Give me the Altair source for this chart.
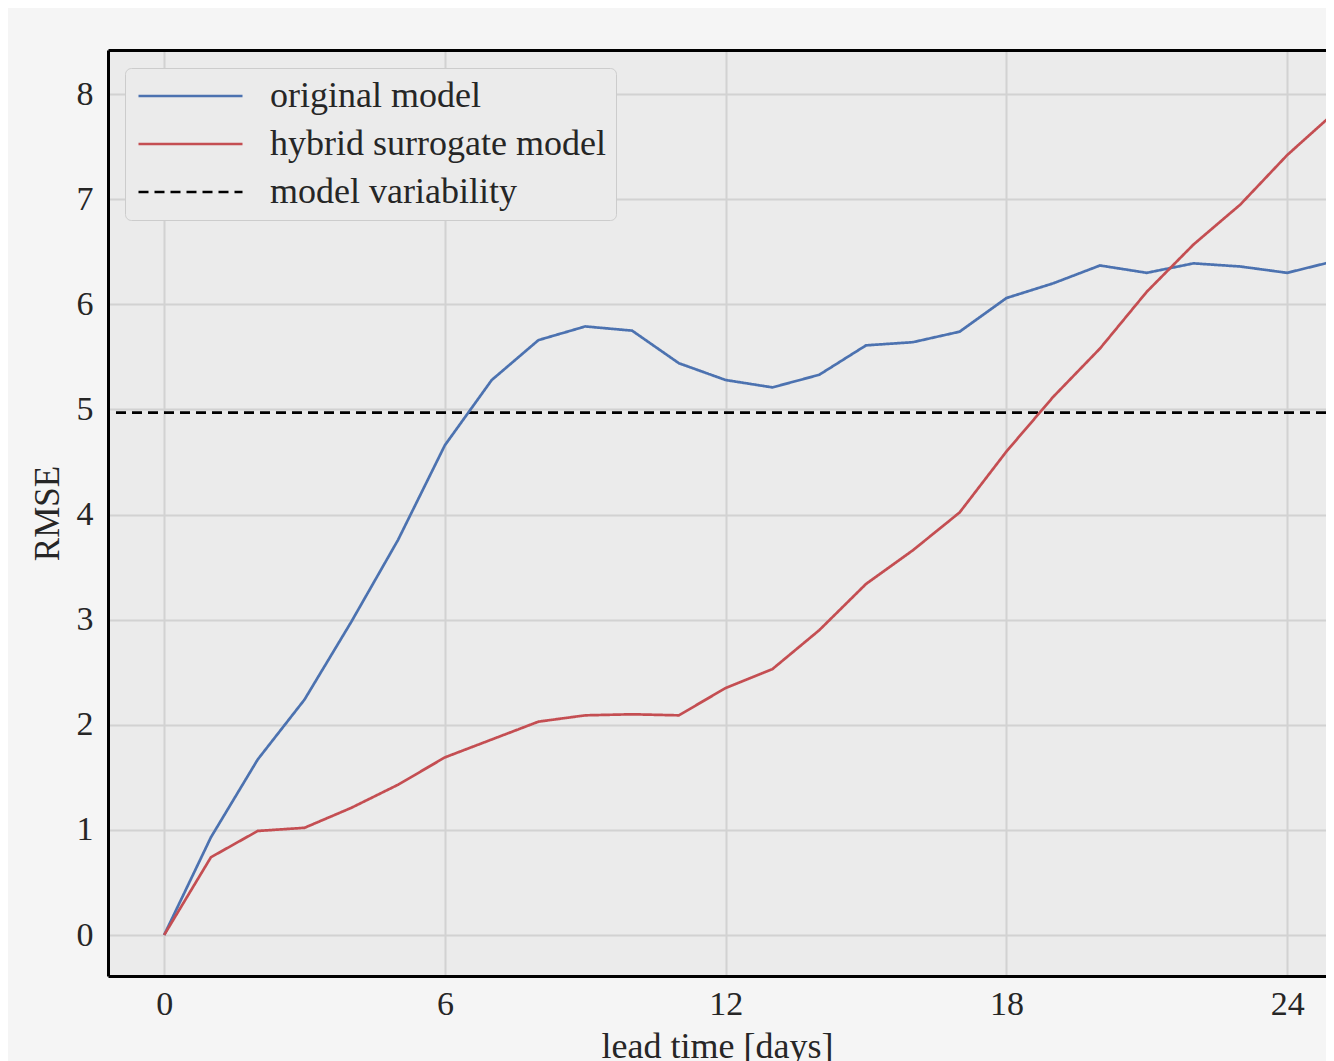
import altair as alt
import pandas as pd

days = list(range(26))
original = [0, 0.93, 1.67, 2.24, 2.98, 3.76, 4.66, 5.28, 5.66, 5.79, 5.75, 5.44, 5.28,
            5.21, 5.33, 5.61, 5.64, 5.74, 6.06, 6.20, 6.37, 6.30, 6.39, 6.36, 6.30, 6.41]
hybrid = [0, 0.74, 0.99, 1.02, 1.21, 1.43, 1.69, 1.86, 2.03, 2.09, 2.10, 2.09, 2.35,
          2.53, 2.90, 3.34, 3.66, 4.02, 4.60, 5.12, 5.58, 6.12, 6.57, 6.95, 7.42, 7.82]
variability = 4.97

series_names = ["original model", "hybrid surrogate model", "model variability"]
colors = ["#4c72b0", "#c44e52", "#000000"]
dashes = [[1, 0], [1, 0], [10, 6]]
x_ticks = [0, 6, 12, 18, 24]
y_ticks = [0, 1, 2, 3, 4, 5, 6, 7, 8]

lines_df = pd.concat([
    pd.DataFrame({"day": days, "rmse": original, "series": series_names[0]}),
    pd.DataFrame({"day": days, "rmse": hybrid, "series": series_names[1]}),
])
rule_df = pd.DataFrame({"rmse": [variability], "series": [series_names[2]]})

FONT = "Liberation Serif"
TXT = "#262626"

color = alt.Color(
    "series:N",
    scale=alt.Scale(domain=series_names, range=colors),
    legend=alt.Legend(
        title=None,
        orient="none",
        legendX=17,
        legendY=18,
        fillColor="#ebebeb",
        strokeColor="#cccccc",
        cornerRadius=6,
        padding=10,
        symbolType="M-2.9,0H17.9",
        symbolSize=100,
        symbolStrokeWidth=2.6,
        labelFont=FONT,
        labelFontSize=36,
        labelColor=TXT,
        labelOffset=99,
        labelLimit=0,
        rowPadding=12,
    ),
)
dash = alt.StrokeDash(
    "series:N",
    scale=alt.Scale(domain=series_names, range=dashes),
    legend=alt.Legend(title=None, orient="none", legendX=17, legendY=18),
)

# plot spans 108..1326 px; 46.79 px per day with day 0 at x=164
xscale = alt.Scale(domain=[-1.2, 24.83], nice=False, zero=False)
yscale = alt.Scale(domain=[-0.39, 8.42], nice=False, zero=False)

BORDER = dict(domain=True, domainColor="#000000", domainWidth=3)

lines = alt.Chart(lines_df).mark_line(strokeWidth=2.7, clip=True).encode(
    x=alt.X("day:Q", scale=xscale,
            axis=alt.Axis(title="lead time [days]", values=x_ticks, labelPadding=11,
                          titlePadding=8, titleFontSize=36, **BORDER)),
    y=alt.Y("rmse:Q", scale=yscale,
            axis=alt.Axis(title="RMSE", values=y_ticks, format="d", labelPadding=15,
                          titleX=-61, titleBaseline="middle", titleFontSize=35,
                          **BORDER)),
    color=color,
    strokeDash=dash,
)

top_border = alt.Chart(lines_df).mark_line(opacity=0, clip=True).encode(
    x=alt.X("day:Q", scale=xscale,
            axis=alt.Axis(orient="top", title=None, labels=False, ticks=False,
                          grid=False, **BORDER)),
    y=alt.Y("rmse:Q", scale=yscale),
    detail="series:N",
)

rule = alt.Chart(rule_df).mark_rule(strokeWidth=2.6).encode(
    y=alt.Y("rmse:Q", scale=yscale),
    color=color,
    strokeDash=dash,
)

chart = alt.layer(rule, lines, top_border).resolve_axis(x="independent").properties(
    width=1218,
    height=926,
    autosize=alt.AutoSizeParams(type="none"),
    padding={"left": 100, "top": 42, "right": 0, "bottom": 85},
    background="#f5f5f5",
).configure_view(
    fill="#ebebeb", strokeWidth=0
).configure_axis(
    labelFont=FONT, titleFont=FONT, labelFontSize=34, titleFontSize=36,
    labelColor=TXT, titleColor=TXT, titleFontWeight="normal",
    grid=True, gridColor="#d2d2d2", gridWidth=2,
    ticks=False,
)

chart.save("out.html", embed_options={"renderer": "svg", "actions": False})
